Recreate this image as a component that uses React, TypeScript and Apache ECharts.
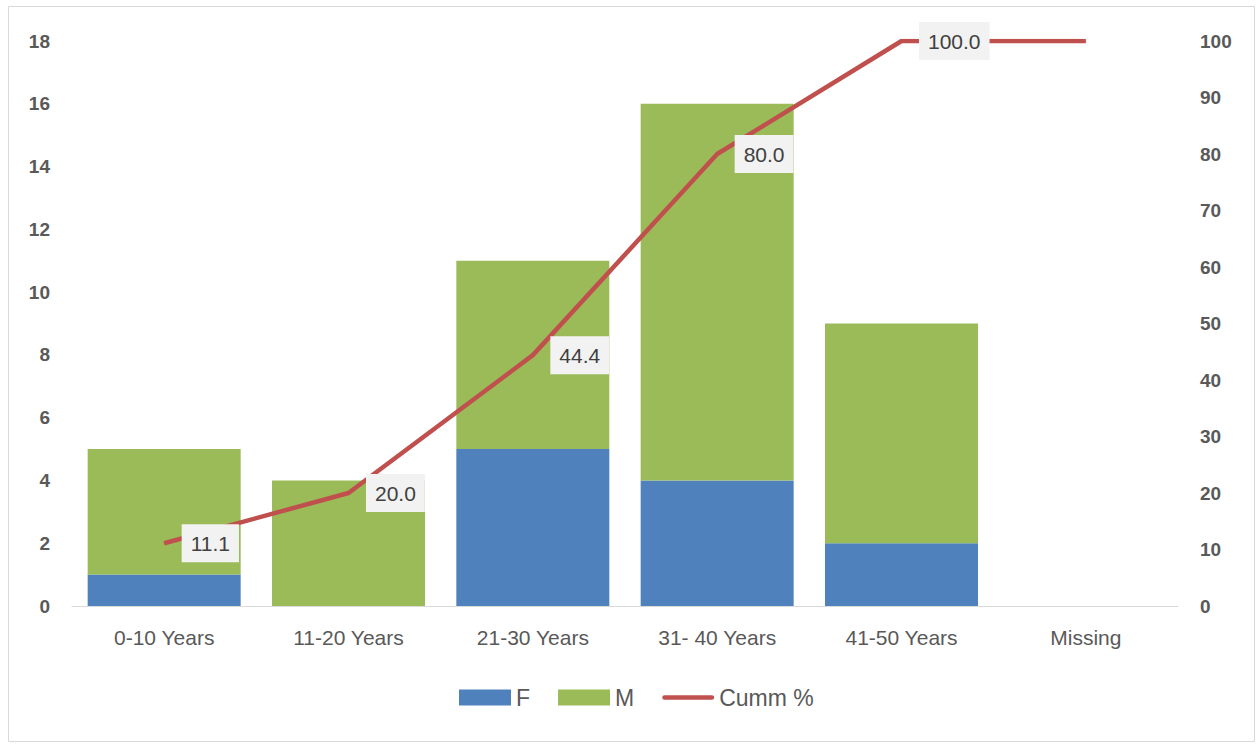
import React, { useEffect, useRef } from "react";
import * as echarts from "echarts";

const categories = ["0-10 Years", "11-20 Years", "21-30 Years", "31- 40 Years", "41-50 Years", "Missing"];
const femaleValues = [1, 0, 5, 4, 2, 0];
const maleValues = [4, 4, 6, 12, 7, 0];
const cummPercent = [11.1, 20.0, 44.4, 80.0, 100.0, 100.0];
const labelShown = [true, true, true, true, true, false];
const leftTicks = { min: 0, max: 18, interval: 2 };
const rightTicks = { min: 0, max: 100, interval: 10 };

const FONT = "'Liberation Sans', Arial, sans-serif";

export default function App() {
  const ref = useRef<HTMLDivElement>(null);
  useEffect(() => {
    if (!ref.current) return;
    const chart = echarts.init(ref.current, undefined, { renderer: "svg" });
    chart.setOption({
      animation: false,
      backgroundColor: "#ffffff",
      textStyle: { fontFamily: FONT },
      graphic: [
        {
          type: "rect",
          shape: { x: 8.5, y: 6.5, width: 1246, height: 735 },
          style: { fill: "none", stroke: "#D9D9D9", lineWidth: 1 },
          silent: true,
        },
      ],
      grid: { left: 72, right: 79, top: 41, bottom: 138 },
      legend: {
        bottom: 35,
        left: 459,
        padding: 0,
        itemWidth: 52,
        itemHeight: 16,
        itemGap: 28,
        textStyle: { fontSize: 23, color: "#595959", fontFamily: FONT, padding: [0, 0, 0, 0] },
        data: [
          { name: "F", icon: "rect" },
          { name: "M", icon: "rect" },
          { name: "Cumm %", icon: "path://M2,0 L52,0 A2.5,2.5 0 0 1 52,5 L2,5 A2.5,2.5 0 0 1 2,0 Z" },
        ],
      },
      xAxis: {
        type: "category",
        data: categories,
        axisLine: { lineStyle: { color: "#D9D9D9", width: 1 } },
        axisTick: { show: false },
        axisLabel: { color: "#595959", fontSize: 21, margin: 21, fontFamily: FONT },
      },
      yAxis: [
        {
          type: "value",
          min: leftTicks.min,
          max: leftTicks.max,
          interval: leftTicks.interval,
          splitLine: { show: false },
          axisLine: { show: false },
          axisTick: { show: false },
          axisLabel: { color: "#595959", fontSize: 19, fontWeight: "bold", margin: 22, fontFamily: FONT },
        },
        {
          type: "value",
          min: rightTicks.min,
          max: rightTicks.max,
          interval: rightTicks.interval,
          splitLine: { show: false },
          axisLine: { show: false },
          axisTick: { show: false },
          axisLabel: { color: "#595959", fontSize: 19, fontWeight: "bold", margin: 22, fontFamily: FONT },
        },
      ],
      series: [
        {
          name: "F",
          type: "bar",
          stack: "g",
          data: femaleValues,
          barCategoryGap: "17%",
          itemStyle: { color: "#4F81BD" },
        },
        {
          name: "M",
          type: "bar",
          stack: "g",
          data: maleValues,
          barCategoryGap: "17%",
          itemStyle: { color: "#9BBB59" },
        },
        {
          name: "Cumm %",
          type: "line",
          yAxisIndex: 1,
          data: cummPercent.map((v, i) => ({
            value: v,
            label: { show: labelShown[i] },
          })),
          symbol: "circle",
          symbolSize: 1,
          showSymbol: true,
          lineStyle: { color: "#C0504D", width: 4.5 },
          itemStyle: { color: "#C0504D" },
          label: {
            show: true,
            position: "right",
            distance: 17,
            formatter: (p: any) => Number(p.value).toFixed(1),
            backgroundColor: "#F2F2F2",
            color: "#404040",
            fontSize: 21,
            padding: [9, 9, 8, 9],
            fontFamily: FONT,
          },
        },
      ],
    });
    return () => chart.dispose();
  }, []);
  return (
    <div
      ref={ref}
      style={{ position: "absolute", left: 0, top: 0, width: 1257, height: 744 }}
    />
  );
}
